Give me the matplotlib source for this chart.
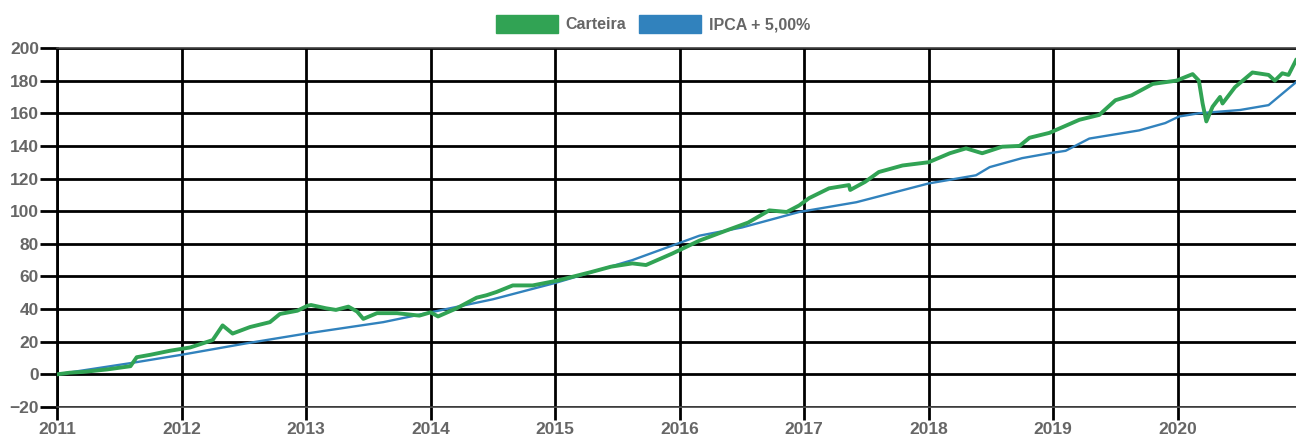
import matplotlib
matplotlib.use("Agg")
import matplotlib.pyplot as plt
from matplotlib.patches import Patch

# Carteira (portfolio) cumulative return, %  (x in decimal years)
cart_x = [2011.0, 2011.1, 2011.21, 2011.4, 2011.59, 2011.64, 2011.75, 2011.91, 2012.07, 2012.25,
          2012.33, 2012.41, 2012.55, 2012.71, 2012.79, 2012.93, 2013.01, 2013.04, 2013.16, 2013.24,
          2013.34, 2013.41, 2013.46, 2013.57, 2013.73, 2013.91, 2014.0, 2014.06, 2014.21, 2014.37,
          2014.45, 2014.53, 2014.66, 2014.82, 2015.02, 2015.28, 2015.45, 2015.62, 2015.73, 2015.94,
          2016.16, 2016.37, 2016.55, 2016.72, 2016.86, 2016.96, 2017.04, 2017.2, 2017.36, 2017.37,
          2017.49, 2017.6, 2017.79, 2018.0, 2018.17, 2018.3, 2018.43, 2018.59, 2018.73, 2018.81,
          2018.97, 2019.21, 2019.37, 2019.5, 2019.63, 2019.8, 2019.99, 2020.12, 2020.17, 2020.2,
          2020.23, 2020.28, 2020.34, 2020.36, 2020.46, 2020.6, 2020.73, 2020.78, 2020.84, 2020.89,
          2020.95]
cart_y = [0, 1, 1.5, 3, 5, 10.5, 12, 14.5, 16.5, 21,
          30, 25, 29, 32, 37, 39, 42, 42.5, 40.5, 39.5,
          41.5, 38.5, 34, 37.5, 37.5, 36, 38, 35.5, 40.5, 47,
          48.5, 50.5, 54.5, 54.5, 57.5, 62.5, 66, 68, 67, 74,
          82, 88, 93, 100.5, 99.5, 103.5, 108, 114, 116, 113,
          118, 124, 128, 130, 135.5, 138.5, 135.5, 139.5, 140, 145,
          148, 156, 159, 168, 171, 178, 180, 184, 180, 166,
          155, 164, 170, 166, 176, 185, 183.5, 180, 184.5, 183.5,
          192.5]

# IPCA + 5,00% benchmark cumulative return, %
ipca_x = [2011.0, 2011.6, 2012.0, 2012.52, 2013.0, 2013.62, 2014.0, 2014.5, 2015.0, 2015.62,
          2016.16, 2016.5, 2016.96, 2017.42, 2018.0, 2018.38, 2018.49, 2018.75, 2018.97, 2019.1,
          2019.29, 2019.69, 2019.9, 2020.01, 2020.17, 2020.5, 2020.73, 2020.95]
ipca_y = [0, 7, 12, 19, 25, 32, 38, 46, 56, 70,
          85, 90, 99.5, 105.5, 117, 122, 127, 132.5, 135.5, 137,
          144.5, 149.5, 154, 158, 160, 162, 165, 179]

year_ticks = list(range(2011, 2021))
y_ticks = list(range(-20, 201, 20))
series_names = ["Carteira", "IPCA + 5,00%"]

GREEN = "#31a354"
BLUE = "#3182bd"
LABEL = "#666666"

plt.rcParams['font.family'] = ['Liberation Sans', 'DejaVu Sans']

fig = plt.figure(figsize=(12.96, 4.36), dpi=100)
ax = fig.add_axes([57/1296, 1 - 407/436, 1 - 57/1296, (407 - 48)/436])

ax.plot(ipca_x, ipca_y, color=BLUE, lw=1.7, zorder=3)
ax.plot(cart_x, cart_y, color=GREEN, lw=2.8, zorder=4)

ax.set_xlim(2011, 2020.95)
ax.set_ylim(-20, 200)
ax.set_xticks(year_ticks)
ax.set_xticklabels([str(y) for y in year_ticks])
ax.set_yticks(y_ticks)
ax.grid(True, color="black", lw=2, zorder=1)
ax.set_axisbelow(True)

ax.spines["right"].set_visible(False)
ax.spines["left"].set_color("black")
ax.spines["left"].set_linewidth(2)
ax.spines["top"].set_color("#444444")
ax.spines["top"].set_linewidth(1.2)
ax.spines["bottom"].set_color("#444444")
ax.spines["bottom"].set_linewidth(1.2)

ax.tick_params(axis="y", length=12, width=2, color="black", pad=1,
               labelsize=12.5, labelcolor=LABEL)
ax.tick_params(axis="x", length=9, width=2, color="black", pad=1.5,
               labelsize=12.5, labelcolor=LABEL)
for lab in ax.get_xticklabels() + ax.get_yticklabels():
    lab.set_fontweight("bold")

handles = [Patch(facecolor=GREEN, edgecolor=GREEN),
           Patch(facecolor=BLUE, edgecolor=BLUE)]
leg = fig.legend(handles, series_names, loc="center", bbox_to_anchor=(653/1296, 1 - 24/436),
                 ncol=2, frameon=False, handlelength=3.9, handleheight=1.3,
                 handletextpad=0.45, columnspacing=0.8,
                 prop={"weight": "bold", "size": 11.5})
for t in leg.get_texts():
    t.set_color(LABEL)

fig.savefig("out.png", dpi=100)
